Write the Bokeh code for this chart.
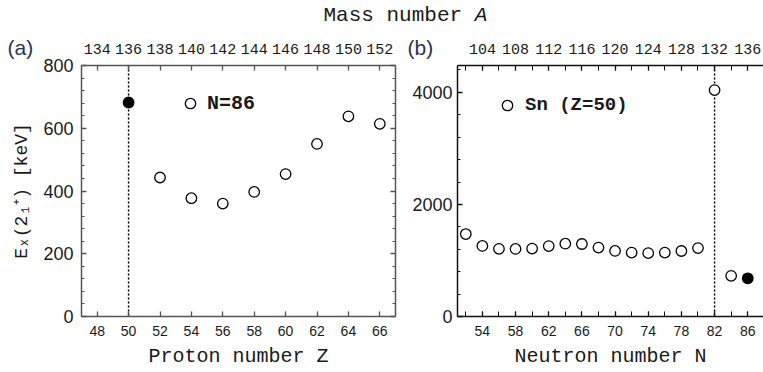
from bokeh.plotting import figure
from bokeh.models import (Range1d, LinearAxis, FixedTicker, Span, Label,
                          CustomJSTickFormatter, ColumnDataSource, Legend, LegendItem)
from bokeh.layouts import column, row
from bokeh.core.properties import value
from bokeh.embed import file_html
from bokeh.resources import INLINE

# ---- data: first 2+ excitation energies (keV) ----
# N = 86 isotones versus proton number Z
z_n86 = [50, 52, 54, 56, 58, 60, 62, 64, 66]
e_n86 = [682, 443, 377, 360, 397, 454, 550, 638, 614]
filled_n86 = [True, False, False, False, False, False, False, False, False]

# Sn isotopes (Z = 50) versus neutron number N
n_sn = [52, 54, 56, 58, 60, 62, 64, 66, 68, 70, 72, 74, 76, 78, 80, 82, 84, 86]
e_sn = [1472, 1260, 1208, 1206, 1212, 1257, 1300, 1294, 1230, 1171,
        1141, 1132, 1141, 1169, 1221, 4041, 726, 682]
filled_sn = [False] * 17 + [True]

N_ISOTONE = 86      # neutron number of the isotone chain
Z_SN = 50           # proton number of tin
MAGIC_Z = 50
MAGIC_N = 82

# ---- ticks ----
z_ticks = [48, 50, 52, 54, 56, 58, 60, 62, 64, 66]
a_ticks_n86 = [134, 136, 138, 140, 142, 144, 146, 148, 150, 152]
n_ticks = [54, 58, 62, 66, 70, 74, 78, 82, 86]
n_minor = [52, 54, 56, 58, 60, 62, 64, 66, 68, 70, 72, 74, 76, 78, 80, 82, 84, 86]
a_ticks_sn = [104, 108, 112, 116, 120, 124, 128, 132, 136]
a_minor_sn = [102, 104, 106, 108, 110, 112, 114, 116, 118, 120, 122, 124, 126,
              128, 130, 132, 134, 136]
e_ticks_a = [0, 200, 400, 600, 800]
e_minor_a = list(range(0, 801, 40))
e_ticks_b = [0, 2000, 4000]
e_minor_b = list(range(0, 4401, 400))

MONO = "Liberation Mono"
SANS = "Liberation Sans"
INK = "#1a1a1a"
TAG = "#2b3452"

HEAD_H = 72      # heading strip; the panels slide up over its lower part
PANEL_TOP = 30   # where the panels start


def style_axis(ax, color):
    ax.axis_line_color = color
    ax.axis_line_width = 1.5
    ax.major_tick_line_color = color
    ax.minor_tick_line_color = color
    ax.major_tick_line_width = 1.3
    ax.minor_tick_line_width = 1
    ax.major_tick_in = 5
    ax.major_tick_out = 0
    ax.minor_tick_in = 3
    ax.minor_tick_out = 0
    ax.major_label_text_color = INK
    ax.axis_label_text_color = INK
    ax.axis_label_text_font_style = "normal"


def make_panel(width, left, right, xr, yr, mass_range):
    p = figure(width=width, height=342, x_range=xr, y_range=yr,
               min_border_left=left, min_border_right=right,
               min_border_top=35, min_border_bottom=56,
               x_axis_location=None, y_axis_location=None,
               toolbar_location=None, output_backend="svg")
    p.extra_x_ranges = {"mass": mass_range}
    p.grid.visible = False
    p.outline_line_color = None
    # transparent, so the panel tags of the heading strip show through
    p.background_fill_alpha = 0
    p.border_fill_alpha = 0
    return p


def split(xs, ys, flags):
    opn = ColumnDataSource(dict(x=[a for a, f in zip(xs, flags) if not f],
                                y=[b for b, f in zip(ys, flags) if not f]))
    fil = ColumnDataSource(dict(x=[a for a, f in zip(xs, flags) if f],
                                y=[b for b, f in zip(ys, flags) if f]))
    return opn, fil


# ================= panel (a): N = 86 isotones =================
Z_LO, Z_HI = 47, 67
pa = make_panel(400, 81, 5, Range1d(Z_LO, Z_HI), Range1d(0, 800),
                Range1d(Z_LO + N_ISOTONE, Z_HI + N_ISOTONE))
axis_gray = "#555555"

bx = LinearAxis(ticker=FixedTicker(ticks=z_ticks), axis_label="Proton number Z")
style_axis(bx, axis_gray)
bx.major_label_text_font = SANS
bx.major_label_text_font_size = "14px"
bx.major_label_standoff = 9
bx.axis_label_text_font = MONO
bx.axis_label_text_font_size = "20px"
bx.axis_label_standoff = 6
pa.add_layout(bx, "below")

tx = LinearAxis(x_range_name="mass", ticker=FixedTicker(ticks=a_ticks_n86))
style_axis(tx, axis_gray)
tx.major_label_text_font = MONO
tx.major_label_text_font_size = "15px"
tx.major_label_standoff = 12
pa.add_layout(tx, "above")

ly = LinearAxis(ticker=FixedTicker(ticks=e_ticks_a, minor_ticks=e_minor_a),
                axis_label="Eₓ(2₁⁺) [keV]")
style_axis(ly, axis_gray)
ly.major_label_text_font = SANS
ly.major_label_text_font_size = "18px"
ly.major_label_standoff = 8
ly.axis_label_text_font = MONO
ly.axis_label_text_font_size = "18px"
ly.axis_label_standoff = 8
pa.add_layout(ly, "left")

ry = LinearAxis(ticker=FixedTicker(ticks=e_ticks_a, minor_ticks=e_minor_a),
                formatter=CustomJSTickFormatter(code="return ''"))
style_axis(ry, axis_gray)
ry.major_label_standoff = 0
pa.add_layout(ry, "right")

pa.add_layout(Span(location=MAGIC_Z, dimension="height", line_color="black",
                   line_width=1.5, line_dash="2 2", level="underlay"))

oa, fa = split(z_n86, e_n86, filled_n86)
open_a = pa.scatter("x", "y", source=oa, marker="circle", size=10.5,
                    fill_color="white", line_color="black", line_width=1.3)
pa.scatter("x", "y", source=fa, marker="circle", size=10.5,
           fill_color="black", line_color="black", line_width=1.3)

leg_a = Legend(items=[LegendItem(label=value("N=86"), renderers=[open_a])],
               location=(96, 200), glyph_width=26, glyph_height=26,
               label_standoff=4, padding=0, margin=0, spacing=0,
               border_line_color=None, background_fill_alpha=0,
               label_text_font=MONO, label_text_font_size="20px",
               label_text_font_style="bold", label_text_color=INK)
pa.add_layout(leg_a)

# ================= panel (b): Sn isotopes =================
N_LO, N_HI = 51, 87.9
pb = make_panel(363, 57, 0, Range1d(N_LO, N_HI), Range1d(0, 4480),
                Range1d(N_LO + Z_SN, N_HI + Z_SN))
axis_black = "#111111"

bx2 = LinearAxis(ticker=FixedTicker(ticks=n_ticks, minor_ticks=n_minor),
                 axis_label="Neutron number N")
style_axis(bx2, axis_black)
bx2.minor_tick_in = 5
bx2.major_label_text_font = SANS
bx2.major_label_text_font_size = "14px"
bx2.major_label_standoff = 9
bx2.axis_label_text_font = MONO
bx2.axis_label_text_font_size = "20px"
bx2.axis_label_standoff = 6
pb.add_layout(bx2, "below")

tx2 = LinearAxis(x_range_name="mass", ticker=FixedTicker(ticks=a_ticks_sn, minor_ticks=a_minor_sn))
style_axis(tx2, axis_black)
tx2.minor_tick_in = 5
tx2.major_label_text_font = MONO
tx2.major_label_text_font_size = "15px"
tx2.major_label_standoff = 12
pb.add_layout(tx2, "above")

ly2 = LinearAxis(ticker=FixedTicker(ticks=e_ticks_b, minor_ticks=e_minor_b))
style_axis(ly2, axis_black)
ly2.major_label_text_font = SANS
ly2.major_label_text_font_size = "18px"
ly2.major_label_standoff = 5
pb.add_layout(ly2, "left")

pb.add_layout(Span(location=MAGIC_N, dimension="height", line_color="black",
                   line_width=1.5, line_dash="2 2", level="underlay"))

ob, fb = split(n_sn, e_sn, filled_sn)
open_b = pb.scatter("x", "y", source=ob, marker="circle", size=10.5,
                    fill_color="white", line_color="black", line_width=1.3)
pb.scatter("x", "y", source=fb, marker="circle", size=10.5,
           fill_color="black", line_color="black", line_width=1.3)

leg_b = Legend(items=[LegendItem(label=value("Sn (Z=50)"), renderers=[open_b])],
               location=(37, 198), glyph_width=26, glyph_height=26,
               label_standoff=5, padding=0, margin=0, spacing=0,
               border_line_color=None, background_fill_alpha=0,
               label_text_font=MONO, label_text_font_size="19px",
               label_text_font_style="bold", label_text_color=INK)
pb.add_layout(leg_b)

# ================= heading strip: shared title and panel tags =================
head = figure(width=763, height=HEAD_H, x_range=Range1d(0, 763), y_range=Range1d(0, HEAD_H),
              min_border=0, x_axis_location=None, y_axis_location=None,
              toolbar_location=None, output_backend="svg")
head.margin = (0, 0, PANEL_TOP - HEAD_H, 0)
head.grid.visible = False
head.outline_line_color = None
head.background_fill_color = "white"
head.border_fill_color = "white"
head.add_layout(Label(x=323, y=HEAD_H - 15, text="Mass number ", text_font=MONO,
                      text_font_size="21px", text_color=INK, text_baseline="middle"))
head.add_layout(Label(x=323 + 12 * 12.6, y=HEAD_H - 15, text="A", text_font=MONO,
                      text_font_size="21px", text_font_style="italic",
                      text_color=INK, text_baseline="middle"))
head.add_layout(Label(x=7, y=HEAD_H - 47, text="(a)", text_font=SANS,
                      text_font_size="21px", text_color=TAG, text_baseline="middle"))
head.add_layout(Label(x=407, y=HEAD_H - 47, text="(b)", text_font=SANS,
                      text_font_size="21px", text_color=TAG, text_baseline="middle"))

layout = column(head, row(pa, pb))

with open("out.html", "w") as f:
    f.write(file_html(layout, INLINE))
